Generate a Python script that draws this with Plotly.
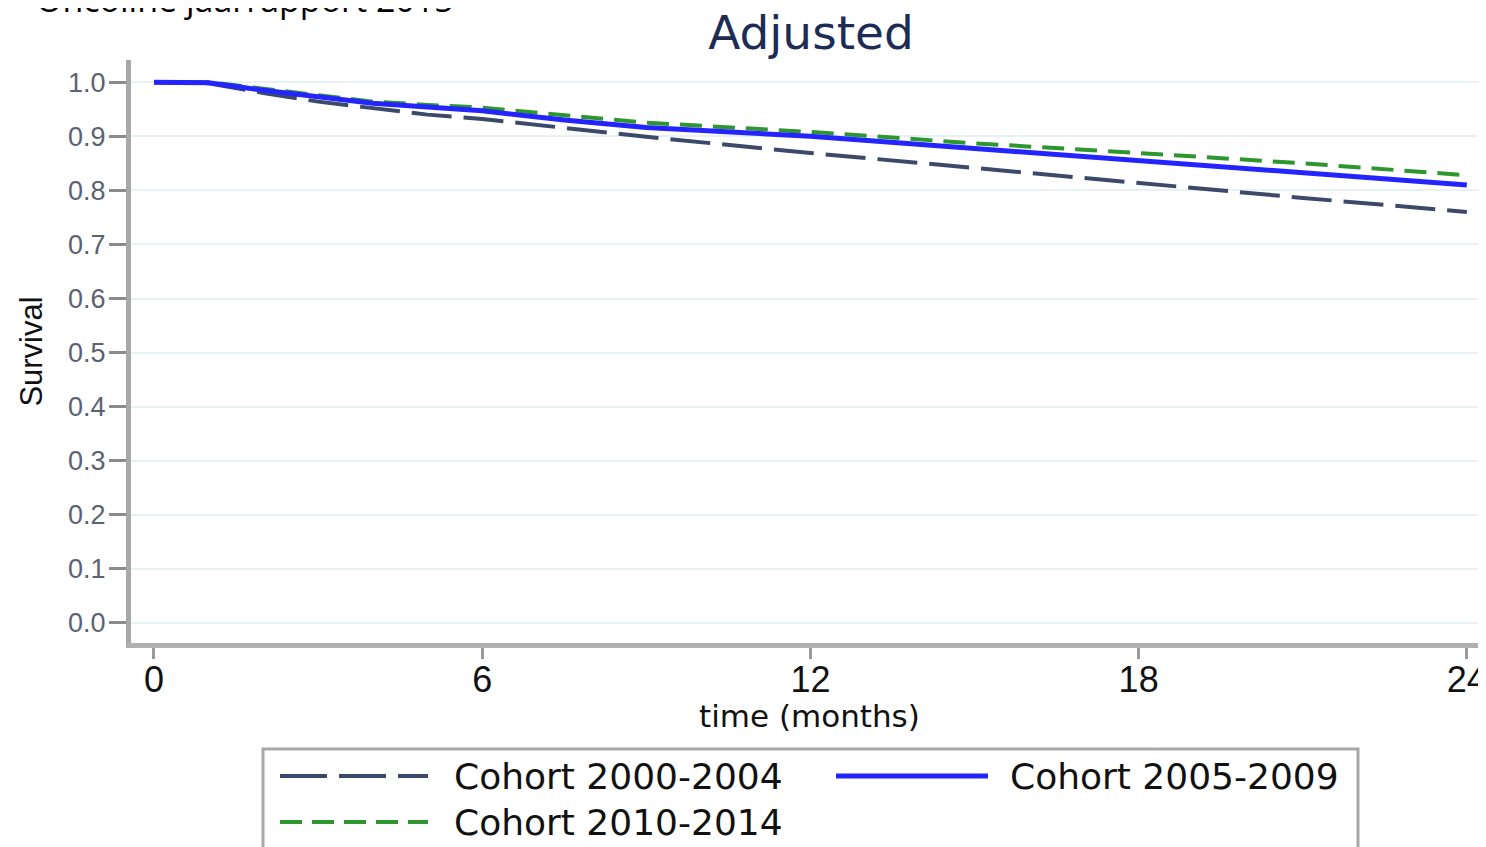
import plotly.graph_objects as go

# ---- data ----
months = [0, 1, 2, 3, 4, 5, 6, 7.5, 9, 12, 15, 18, 21, 24]
cohort_2000_2004 = [1.0, 0.998, 0.980, 0.964, 0.952, 0.940, 0.932, 0.915, 0.899, 0.869, 0.841, 0.813, 0.786, 0.760]
cohort_2005_2009 = [1.0, 0.999, 0.985, 0.972, 0.961, 0.954, 0.947, 0.930, 0.916, 0.900, 0.878, 0.856, 0.832, 0.810]
cohort_2010_2014 = [1.0, 1.0, 0.988, 0.976, 0.964, 0.958, 0.953, 0.939, 0.925, 0.908, 0.887, 0.869, 0.850, 0.828]
series_names = ["Cohort 2000-2004", "Cohort 2005-2009", "Cohort 2010-2014"]
x_ticks = [0, 6, 12, 18, 24]
y_ticks = [0.0, 0.1, 0.2, 0.3, 0.4, 0.5, 0.6, 0.7, 0.8, 0.9, 1.0]
y_tick_labels = ["0.0", "0.1", "0.2", "0.3", "0.4", "0.5", "0.6", "0.7", "0.8", "0.9", "1.0"]

NAVY = "#3b4a6b"
BLUE = "#2424ff"
GREEN = "#2e962e"
NAVY_DASH = "40px,12px"
GREEN_DASH = "22px,11px"

# the page body has an 8px margin; figure is sized/positioned to compensate
OFF = 8
W, H = 1486 - OFF, 847 - OFF
ML, MT = 131 - OFF, 60 - OFF
PLOT_BOTTOM = 643 - OFF
MR, MB = 0, H - PLOT_BOTTOM
PW, PH = W - ML - MR, H - MT - MB


def px(x):  # reference screen x -> paper x
    return (x - OFF - ML) / PW


def py(y):  # reference screen y -> paper y
    return (PLOT_BOTTOM - (y - OFF)) / PH


fig = go.Figure()
fig.add_trace(go.Scatter(x=months, y=cohort_2000_2004, mode="lines", name=series_names[0],
                         line=dict(color=NAVY, width=4, dash=NAVY_DASH)))
fig.add_trace(go.Scatter(x=months, y=cohort_2010_2014, mode="lines", name=series_names[2],
                         line=dict(color=GREEN, width=4, dash=GREEN_DASH)))
fig.add_trace(go.Scatter(x=months, y=cohort_2005_2009, mode="lines", name=series_names[1],
                         line=dict(color=BLUE, width=5)))

fig.update_layout(
    width=W, height=H,
    margin=dict(l=ML, r=MR, t=MT, b=MB, autoexpand=False),
    paper_bgcolor="white", plot_bgcolor="white",
    showlegend=False,
    font=dict(family="Liberation Sans, Arial", color="#222"),
    title=dict(text="Adjusted", x=px(811), xanchor="center", xref="paper",
               y=1 - (33 - OFF) / H, yanchor="middle",
               font=dict(family="DejaVu Sans", size=47, color="#1c2c55")),
)

fig.update_xaxes(
    range=[-0.42, 24.35], tickvals=x_ticks, ticktext=[str(v) for v in x_ticks],
    showgrid=False, zeroline=False,
    showline=True, linecolor="#b0b0b0", linewidth=5,
    ticks="outside", ticklen=11, tickwidth=3, tickcolor="#9a9a9a",
    ticklabelstandoff=-10, ticklabeloverflow="allow",
    tickfont=dict(family="Liberation Sans, Arial", size=36, color="#111"),
)
fig.update_yaxes(
    range=[-0.037, 1.041], tickvals=y_ticks, ticktext=y_tick_labels,
    showgrid=True, gridcolor="#e8f1f3", gridwidth=2, zeroline=False,
    showline=True, linecolor="#a8a8a8", linewidth=5,
    ticks="outside", ticklen=17, tickwidth=3, tickcolor="#8a8a8a",
    ticklabelstandoff=-2,
    tickfont=dict(family="Liberation Sans, Arial", size=27, color="#5c6272"),
    title=dict(text="Survival", standoff=18,
               font=dict(family="Liberation Sans, Arial", size=31, color="#111")),
)

# x-axis title placed precisely (sits tight under the tick labels)
fig.add_annotation(text="time (months)", xref="paper", yref="paper",
                   x=px(809), y=py(716), xanchor="center", yanchor="middle",
                   showarrow=False,
                   font=dict(family="DejaVu Sans", size=31, color="#111"))

# clipped header text at the top-left
fig.add_annotation(text="Oncoline jaarrapport 2015", xref="paper", yref="paper",
                   x=px(456), y=py(-1), xanchor="right", yanchor="middle",
                   showarrow=False,
                   font=dict(family="Open Sans", size=34, color="#000"))

# ---- manual legend (Stata style) ----
shapes = [dict(type="rect", xref="paper", yref="paper",
               x0=px(263), x1=px(1358), y0=py(749), y1=py(900),
               line=dict(color="#a8a8a8", width=3), fillcolor="rgba(0,0,0,0)")]
legend_items = [
    (series_names[0], NAVY, 4, "47px,12px", 280, 428, 776, 452),
    (series_names[1], BLUE, 5, "solid", 836, 988, 776, 1008),
    (series_names[2], GREEN, 4, "22px,10px", 280, 428, 822, 452),
]
for name, col, wdt, dsh, x0, x1, yy, tx in legend_items:
    shapes.append(dict(type="line", xref="paper", yref="paper",
                       x0=px(x0), x1=px(x1), y0=py(yy), y1=py(yy),
                       line=dict(color=col, width=wdt, dash=dsh)))
    fig.add_annotation(text=name, xref="paper", yref="paper", x=px(tx), y=py(yy),
                       xanchor="left", yanchor="middle", showarrow=False,
                       font=dict(family="DejaVu Sans", size=36, color="#111"))
fig.update_layout(shapes=shapes)

fig.write_html("out.html")
